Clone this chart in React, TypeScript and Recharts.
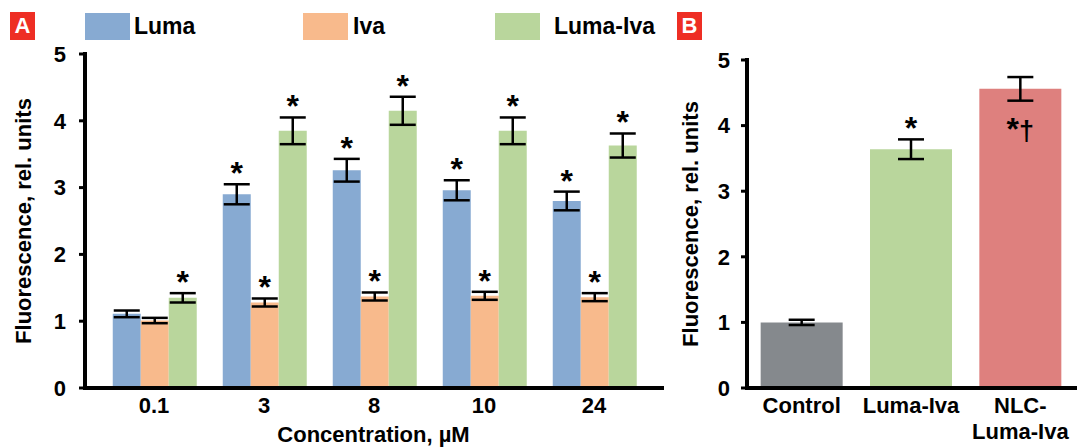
import React from 'react';
import { BarChart, Bar, XAxis, YAxis, ErrorBar, LabelList, Cell } from 'recharts';

// Panel A: fluorescence vs. concentration
const concentrations = ['0.1', '3', '8', '10', '24'];
const luma = [1.11, 2.9, 3.26, 2.96, 2.8];
const lumaErr = [0.05, 0.15, 0.17, 0.15, 0.14];
const iva = [1.01, 1.28, 1.37, 1.38, 1.36];
const ivaErr = [0.04, 0.06, 0.06, 0.06, 0.06];
const lumaIva = [1.35, 3.85, 4.15, 3.85, 3.63];
const lumaIvaErr = [0.07, 0.2, 0.21, 0.2, 0.18];
const lumaSig = ['', '*', '*', '*', '*'];
const ivaSig = ['', '*', '*', '*', '*'];
const lumaIvaSig = ['*', '*', '*', '*', '*'];

// Panel B: formulations
const formulations = ['Control', 'Luma-Iva', 'NLC-\nLuma-Iva'];
const formulationValues = [1.0, 3.64, 4.56];
const formulationErr = [0.04, 0.15, 0.18];
const formulationSig = ['', '*', '*†'];

const yTicks = [0, 1, 2, 3, 4, 5];

const BLUE = '#87AAD2';
const ORANGE = '#F8BA8C';
const GREEN = '#B9D69C';
const GRAY = '#85898D';
const RED = '#DE807E';
const FONT = '"Liberation Sans", Arial, sans-serif';

const dataA = concentrations.map((c, i) => ({
  conc: c,
  luma: luma[i],
  lumaErr: lumaErr[i],
  lumaSig: lumaSig[i],
  iva: iva[i],
  ivaErr: ivaErr[i],
  ivaSig: ivaSig[i],
  lumaIva: lumaIva[i],
  lumaIvaErr: lumaIvaErr[i],
  lumaIvaSig: lumaIvaSig[i],
}));

const dataB = formulations.map((f, i) => ({
  name: f,
  value: formulationValues[i],
  err: formulationErr[i],
  sig: formulationSig[i],
}));

const frame = { stroke: '#000', strokeWidth: 4, strokeLinecap: 'square' as const };
const tickText = { fontSize: 22, fontWeight: 700, fill: '#000', fontFamily: FONT };
const titleStyle = { fontSize: 22, fontWeight: 700, fill: '#000', fontFamily: FONT, textAnchor: 'middle' as const };

// significance marks: above the error bar, or inside the bar when there are two symbols
const renderSig = (values: number[], errs: number[]) => (props: any) => {
  const { x, y, width, height, value, index } = props;
  if (!value) return null;
  const cx = Number(x) + Number(width) / 2;
  const top = Number(y);
  const errPx = (Number(height) * errs[index]) / values[index];
  if (String(value).length > 1) {
    return (
      <text x={cx} y={top + 51} textAnchor="middle" fontSize={32} fontWeight={700} fontFamily={FONT} fill="#000">
        {String(value)[0]}
        <tspan fontSize={27}>{String(value).slice(1)}</tspan>
      </text>
    );
  }
  return (
    <text x={cx} y={top - errPx} textAnchor="middle" fontSize={32} fontWeight={700} fontFamily={FONT} fill="#000">
      {value}
    </text>
  );
};

const MultiLineTick = (props: any) => {
  const { x, y, payload } = props;
  const lines = String(payload.value).split('\n');
  return (
    <text x={x} y={y} textAnchor="middle" {...tickText}>
      {lines.map((l, i) => (
        <tspan key={i} x={x} dy={i === 0 ? '0.71em' : 26}>
          {l}
        </tspan>
      ))}
    </text>
  );
};

function PanelTag({ letter, left }: { letter: string; left: number }) {
  return (
    <div
      style={{
        position: 'absolute', left, top: 12, width: 25, height: 28, background: '#EE2E24',
        color: '#fff', fontFamily: FONT, fontWeight: 700, fontSize: 22, lineHeight: '28px', textAlign: 'center',
      }}
    >
      {letter}
    </div>
  );
}

function LegendItem({ color, label, left, textLeft }: { color: string; label: string; left: number; textLeft: number }) {
  return (
    <>
      <div style={{ position: 'absolute', left, top: 13, width: 45, height: 27, background: color }} />
      <div
        style={{
          position: 'absolute', left: textLeft, top: 12, lineHeight: '28px', fontFamily: FONT,
          fontWeight: 700, fontSize: 23, color: '#000', whiteSpace: 'nowrap',
        }}
      >
        {label}
      </div>
    </>
  );
}

export default function App() {
  return (
    <div style={{ position: 'relative', width: 1078, height: 447, background: '#fff', overflow: 'hidden' }}>
      <style>{'body{margin:0}'}</style>

      <PanelTag letter="A" left={10} />
      <LegendItem color={BLUE} label="Luma" left={85} textLeft={134} />
      <LegendItem color={ORANGE} label="Iva" left={303} textLeft={353} />
      <LegendItem color={GREEN} label="Luma-Iva" left={495} textLeft={554} />

      <div style={{ position: 'absolute', left: 0, top: 0 }}>
        <BarChart
          width={670}
          height={447}
          data={dataA}
          margin={{ top: 54, right: 8, bottom: 0, left: 0 }}
          barCategoryGap="12.5%"
          barGap={0}
        >
          <XAxis
            dataKey="conc"
            height={59}
            tickLine={false}
            tickSize={6}
            tickMargin={3}
            tick={tickText}
            axisLine={frame}
            padding={{ left: 14, right: 13 }}
            label={{ value: 'Concentration, µM', position: 'insideBottom', offset: 5, style: titleStyle }}
          />
          <XAxis xAxisId="top" dataKey="conc" orientation="top" height={0} tick={false} tickLine={false} axisLine={frame} />
          <YAxis
            domain={[0, 5]}
            ticks={yTicks}
            width={85}
            tickSize={6}
            tickMargin={13}
            tick={tickText}
            tickLine={{ stroke: '#000', strokeWidth: 3 }}
            axisLine={frame}
            label={{ value: 'Fluorescence, rel. units', angle: -90, position: 'insideLeft', offset: 23, style: titleStyle }}
          />
          <YAxis yAxisId="right" orientation="right" domain={[0, 5]} width={0} tick={false} tickLine={false} axisLine={frame} />
          <Bar dataKey="luma" fill={BLUE} isAnimationActive={false}>
            <ErrorBar dataKey="lumaErr" width={13} strokeWidth={2.5} stroke="#000" direction="y" />
            <LabelList dataKey="lumaSig" content={renderSig(luma, lumaErr)} />
          </Bar>
          <Bar dataKey="iva" fill={ORANGE} isAnimationActive={false}>
            <ErrorBar dataKey="ivaErr" width={13} strokeWidth={2.5} stroke="#000" direction="y" />
            <LabelList dataKey="ivaSig" content={renderSig(iva, ivaErr)} />
          </Bar>
          <Bar dataKey="lumaIva" fill={GREEN} isAnimationActive={false}>
            <ErrorBar dataKey="lumaIvaErr" width={13} strokeWidth={2.5} stroke="#000" direction="y" />
            <LabelList dataKey="lumaIvaSig" content={renderSig(lumaIva, lumaIvaErr)} />
          </Bar>
        </BarChart>
      </div>

      <PanelTag letter="B" left={677} />

      <div style={{ position: 'absolute', left: 672, top: 0 }}>
        <BarChart
          width={406}
          height={447}
          data={dataB}
          margin={{ top: 60, right: 3, bottom: 0, left: 0 }}
          barCategoryGap="12.5%"
        >
          <XAxis dataKey="name" height={59} tickLine={false} tickSize={6} tickMargin={3} tick={<MultiLineTick />} axisLine={frame} />
          <XAxis xAxisId="top" dataKey="name" orientation="top" height={0} tick={false} tickLine={false} axisLine={frame} />
          <YAxis
            domain={[0, 5]}
            ticks={yTicks}
            width={75}
            tickSize={6}
            tickMargin={11}
            tick={tickText}
            tickLine={{ stroke: '#000', strokeWidth: 3 }}
            axisLine={frame}
            label={{ value: 'Fluorescence, rel. units', angle: -90, position: 'insideLeft', offset: 18, style: titleStyle }}
          />
          <YAxis yAxisId="right" orientation="right" domain={[0, 5]} width={0} tick={false} tickLine={false} axisLine={frame} />
          <Bar dataKey="value" isAnimationActive={false}>
            {dataB.map((d, i) => (
              <Cell key={d.name} fill={[GRAY, GREEN, RED][i]} />
            ))}
            <ErrorBar dataKey="err" width={13} strokeWidth={2.5} stroke="#000" direction="y" />
            <LabelList dataKey="sig" content={renderSig(formulationValues, formulationErr)} />
          </Bar>
        </BarChart>
      </div>
    </div>
  );
}
